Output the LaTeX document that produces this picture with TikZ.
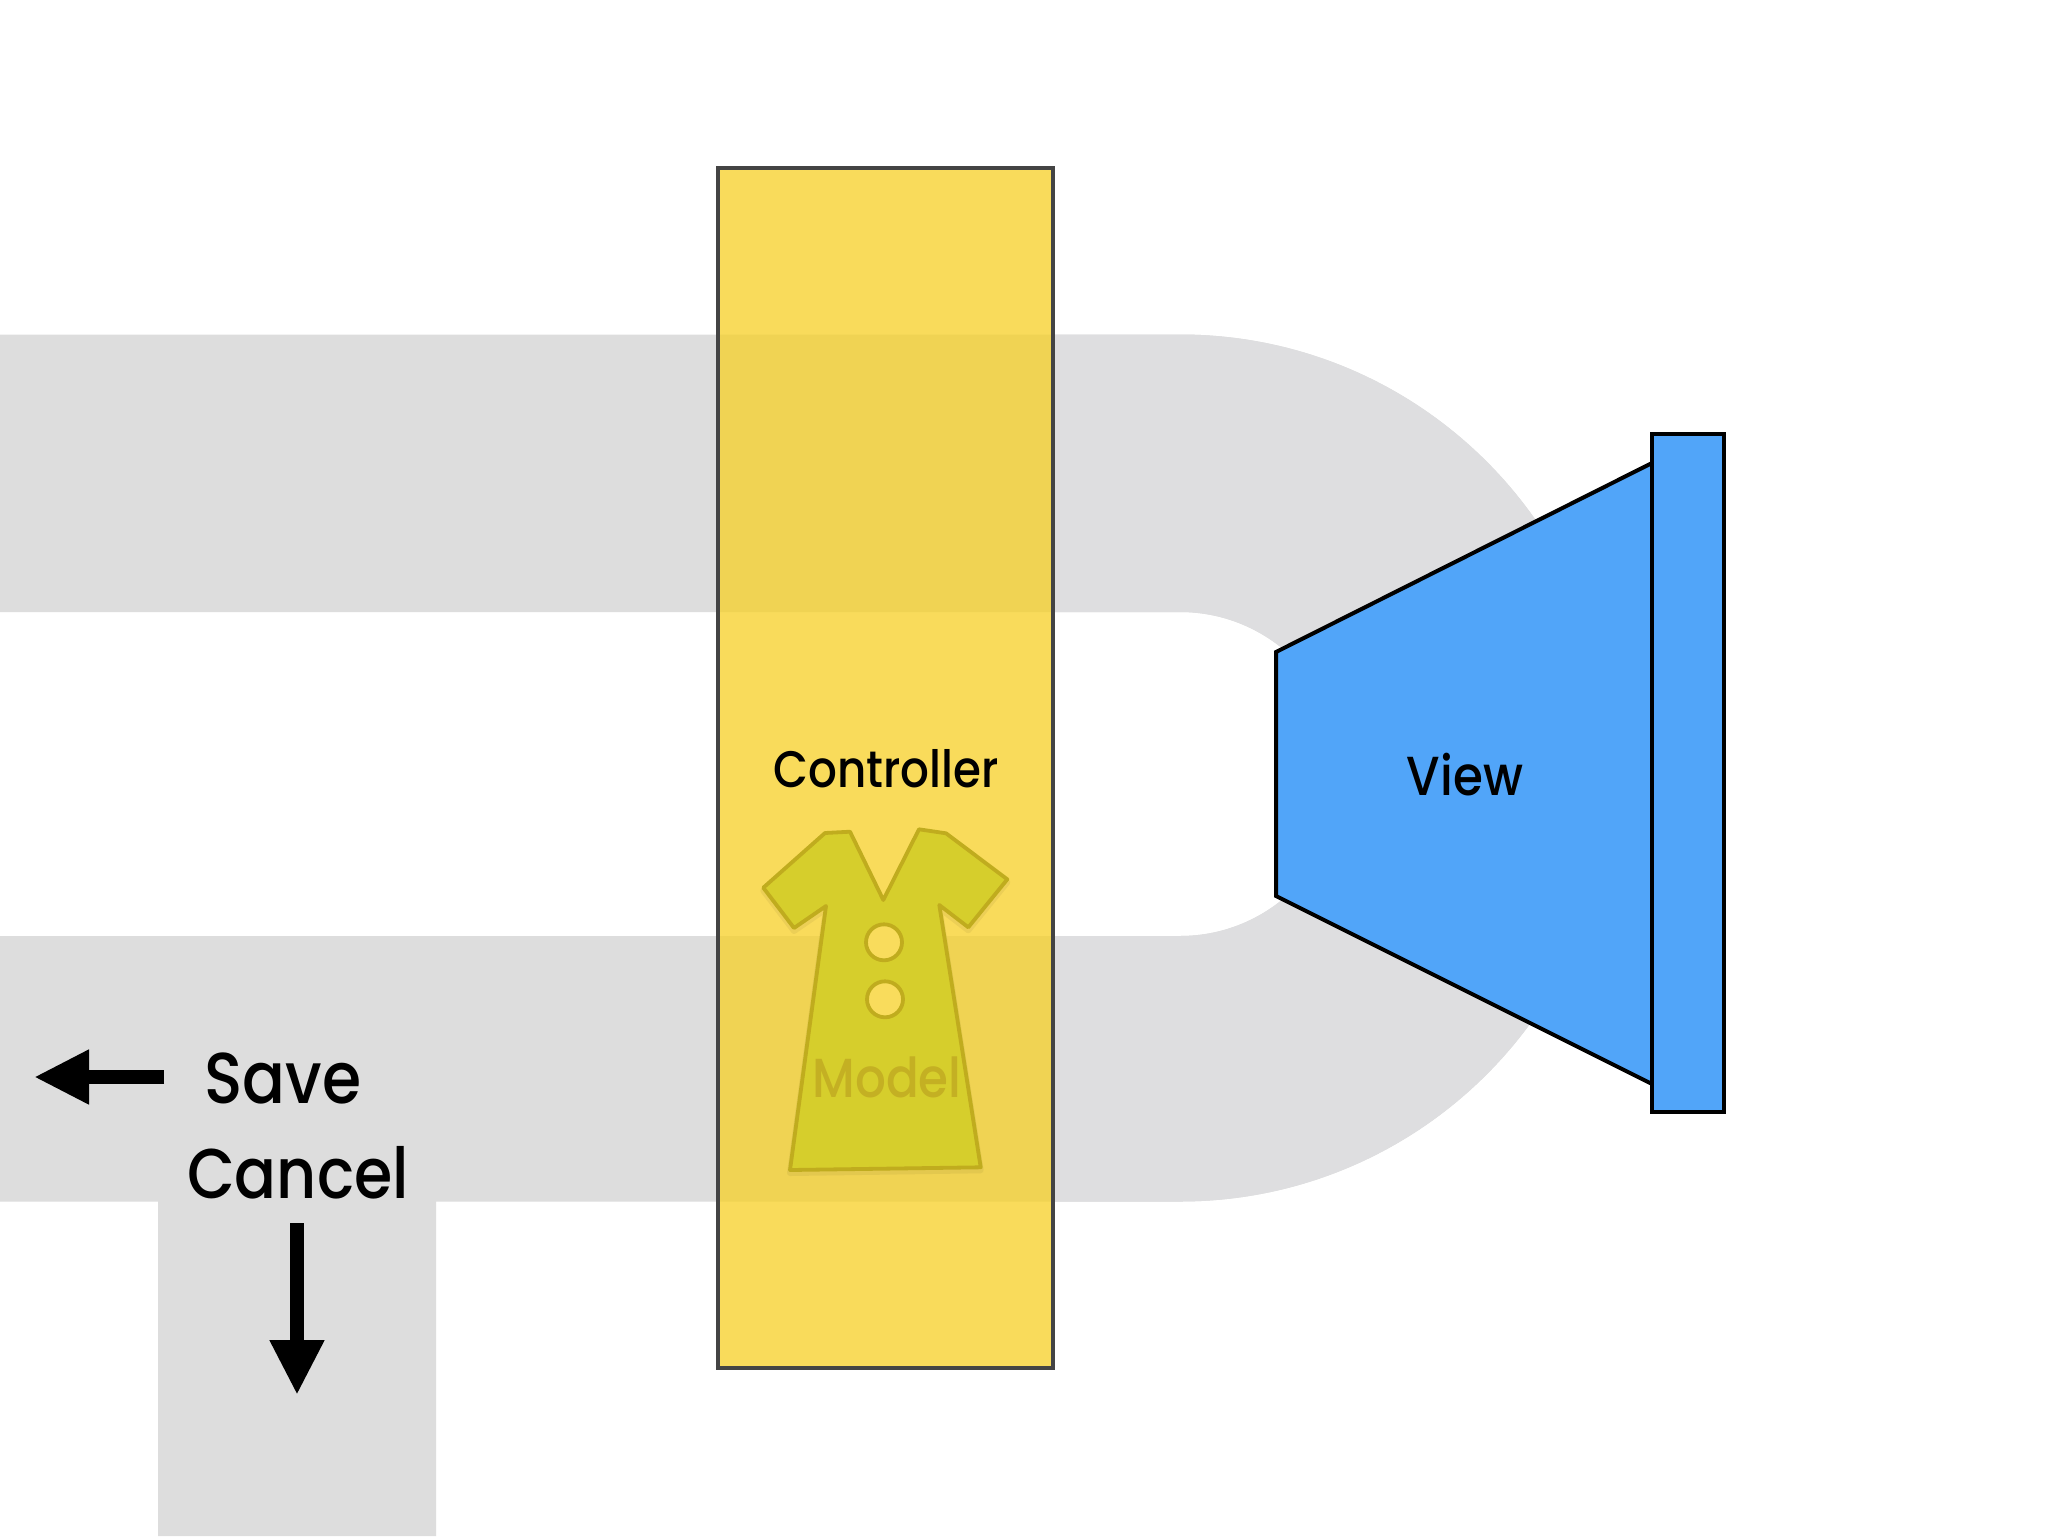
\documentclass[tikz,border=0pt]{standalone}
\usepackage{fontspec}
\setmainfont[FakeStretch=0.88]{Poppins Medium}
\usetikzlibrary{arrows.meta}
\definecolor{bandgrey}{HTML}{DDDDDD}
\definecolor{bandgreyright}{HTML}{DEDEE0}
\definecolor{ctrlfill}{HTML}{F7D025}
\definecolor{ctrlline}{HTML}{444444}
\definecolor{viewblue}{HTML}{51A5F9}
\definecolor{dressfill}{HTML}{D6CE2C}
\definecolor{dressline}{HTML}{C0AC1E}
\definecolor{buttonfill}{HTML}{F9DC5C}
\definecolor{modeltext}{HTML}{C4B023}
\tikzset{
  smalllabel/.style={anchor=base,inner sep=0pt,font=\fontsize{25.7}{25.7}\selectfont},
  midlabel/.style={anchor=base,inner sep=0pt,font=\fontsize{27.5}{27.5}\selectfont},
  biglabel/.style={anchor=base,inner sep=0pt,font=\fontsize{36}{36}\selectfont},
  cancellabel/.style={anchor=base,inner sep=0pt,font=\fontsize{35.2}{35.2}\selectfont},
  viewpart/.style={draw=black,line width=2pt,fill=viewblue,line join=miter},
  dressline/.style={draw=dressline,line width=1.9pt,line join=round},
  bigarrow/.style={draw=black,line width=7pt,-{Triangle[length=27.5pt,width=25.5pt]}}
}
\newcommand{\roadpath}{(0,334.5) -- (1180,334.5) arc (-90:90:433.5)
  -- (436,1201.5) -- (436,1536) -- (158,1536) -- (158,1201.5) -- (0,1201.5) -- (0,936)
  -- (1180,936) arc (90:-90:162) -- (0,612) -- cycle}
\newcommand{\dresspath}{(850,831.7) -- (825,833) -- (763.3,887.7) -- (794,928) -- (826,906)
  -- (790,1170) -- (980.7,1167.3) -- (939.3,905) -- (968.3,927.3) -- (1007.3,879.3)
  -- (946,833.3) -- (919,829.3) -- (883.3,900) -- cycle}
\begin{document}
\begin{tikzpicture}[x=0.5pt,y=-0.5pt]
\useasboundingbox (0,0) rectangle (2048,1536);
\fill[white] (0,0) rectangle (2048,1536);
% grey road
\fill[bandgrey] \roadpath;
\begin{scope}
  \clip (1052,0) rectangle (2048,1536);
  \fill[bandgreyright] \roadpath;
\end{scope}
% controller
\fill[ctrlfill,fill opacity=0.75] (718,168) rectangle (1052.5,1368);
\draw[ctrlline,line width=2pt] (718,168) rectangle (1052.5,1368);
% dress
\begin{scope}[yshift=-1.5pt]
  \path[draw=black,line width=3pt,line join=round,opacity=0.05] \dresspath;
\end{scope}
\path[dressline,fill=dressfill] \dresspath;
\path[dressline,fill=buttonfill] (884,942.3) circle (18);
\path[dressline,fill=buttonfill] (885,999.3) circle (18);
\node[smalllabel,text=black] (controller) at (886,787) {Controller};
\node[midlabel,text=modeltext] (model) at (887,1097) {Model};
% view
\path[viewpart] (1276,652) -- (1652,463) -- (1652,1084) -- (1276,896) -- cycle;
\path[viewpart] (1652,434) rectangle (1724,1112);
\node[midlabel,text=black] (view) at (1465,795) {View};
% labels and arrows
\node[biglabel] (save) at (283,1103) {Save};
\node[cancellabel] (cancel) at (298,1198) {Cancel};
\coordinate (savestart) at (164,1077);
\coordinate (saveend) at (34,1077);
\coordinate (cancelstart) at (297,1223);
\coordinate (cancelend) at (297,1395);
\draw[bigarrow] (savestart) -- (saveend);
\draw[bigarrow] (cancelstart) -- (cancelend);
\end{tikzpicture}
\end{document}
